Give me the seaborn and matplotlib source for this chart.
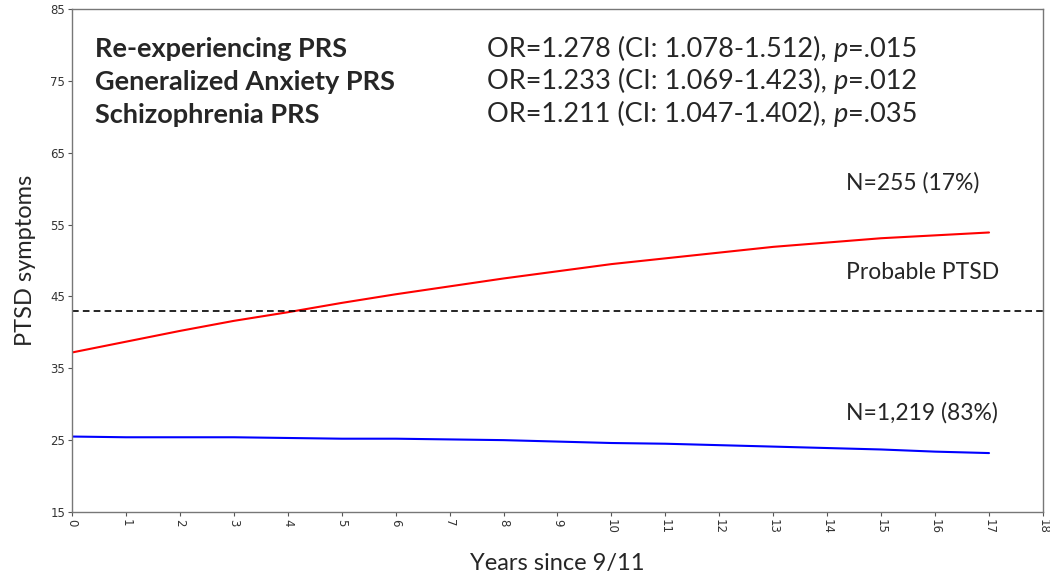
import matplotlib
matplotlib.use("Agg")
import matplotlib.pyplot as plt
import seaborn as sns
import pandas as pd

# trajectory estimates
years = list(range(0, 18))
high_class = [37.2, 38.7, 40.2, 41.6, 42.8, 44.1, 45.3, 46.4, 47.5, 48.5,
              49.5, 50.3, 51.1, 51.9, 52.5, 53.1, 53.5, 53.9]
low_class = [25.5, 25.4, 25.4, 25.4, 25.3, 25.2, 25.2, 25.1, 25.0, 24.8,
             24.6, 24.5, 24.3, 24.1, 23.9, 23.7, 23.4, 23.2]
class_names = ["N=255 (17%)", "N=1,219 (83%)"]
ptsd_cutoff = 43

prs_names = ["Re-experiencing PRS", "Generalized Anxiety PRS", "Schizophrenia PRS"]
prs_or = ["1.278", "1.233", "1.211"]
prs_ci = ["1.078-1.512", "1.069-1.423", "1.047-1.402"]
prs_p = [".015", ".012", ".035"]

y_ticks = [15, 25, 35, 45, 55, 65, 75, 85]
x_ticks = list(range(0, 19))


def build_frame():
    df = pd.DataFrame({
        "year": years * 2,
        "symptoms": high_class + low_class,
        "group": [class_names[0]] * len(years) + [class_names[1]] * len(years),
    })
    return df


def main():
    sns.set_style("white")
    plt.rcParams["font.family"] = ["Lato", "DejaVu Sans"]
    df = build_frame()

    fig = plt.figure(figsize=(10.5, 5.86), dpi=100)
    ax = fig.add_axes([0.0686, 0.1263, 0.9247, 0.8583])

    sns.lineplot(data=df, x="year", y="symptoms", hue="group",
                 palette={class_names[0]: "#ff0000", class_names[1]: "#0000ff"},
                 linewidth=1.5, legend=False, ax=ax)
    ax.axhline(ptsd_cutoff, color="black", linestyle=(0, (4, 2.5)), linewidth=1.2)

    ax.set_xlim(0, 18)
    ax.set_ylim(15, 85)
    ax.set_xticks(x_ticks)
    ax.set_xticklabels([str(t) for t in x_ticks], rotation=-90,
                       fontsize=8.5, color="#333333", family="DejaVu Sans")
    ax.set_yticks(y_ticks)
    ax.set_yticklabels([str(t) for t in y_ticks], fontsize=8.5,
                       color="#333333", family="DejaVu Sans")
    ax.tick_params(axis="both", direction="out", length=3, width=0.8,
                   color="#555555", pad=2, bottom=True, left=True)
    for side in ax.spines.values():
        side.set_color("#777777")
        side.set_linewidth(1.0)

    ax.set_xlabel("Years since 9/11", fontsize=17, labelpad=14)
    ax.set_ylabel("PTSD symptoms", fontsize=17, labelpad=10)

    # PRS association table
    row_y = []
    for i, name in enumerate(prs_names):
        yy = 79.4 - i * 4.55
        row_y.append(yy)
        ax.text(0.43, yy, name, fontsize=19.5, fontweight="bold", va="center")

    # group labels
    ax.text(14.35, 60.8, class_names[0], fontsize=16.5, va="center")
    ax.text(14.35, 48.3, "Probable PTSD", fontsize=16.5, va="center")
    ax.text(14.35, 28.8, class_names[1], fontsize=16.5, va="center")

    # OR column, with italic p stitched after the plain text
    fig.canvas.draw()
    renderer = fig.canvas.get_renderer()
    inv = ax.transData.inverted()
    for i in range(len(prs_names)):
        t = ax.text(7.7, row_y[i], f"OR={prs_or[i]} (CI: {prs_ci[i]}), ",
                    fontsize=19.5, va="center")
        bb = t.get_window_extent(renderer)
        x_end = inv.transform((bb.x1, bb.y0))[0]
        p_txt = ax.text(x_end, row_y[i], "p", fontsize=19.5,
                        style="italic", va="center")
        bb2 = p_txt.get_window_extent(renderer)
        x2 = inv.transform((bb2.x1, bb2.y0))[0]
        ax.text(x2, row_y[i], "=" + prs_p[i], fontsize=19.5, va="center")

    fig.savefig("out.png", dpi=100)


if __name__ == "__main__":
    main()
